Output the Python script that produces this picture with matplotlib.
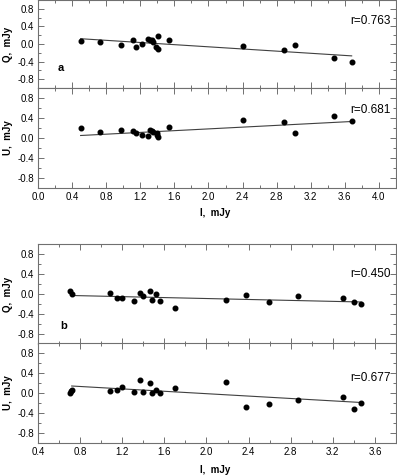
import matplotlib.pyplot as plt
import numpy as np
from matplotlib.ticker import MultipleLocator

plt.rcParams['font.family'] = ['Liberation Sans', 'DejaVu Sans']

# panel a: I, Q, U (mJy)
I_a = [0.50, 0.73, 0.97, 1.12, 1.15, 1.22, 1.29, 1.31, 1.34, 1.35, 1.39, 1.41, 1.41, 1.54,
       2.40, 2.89, 3.01, 3.47, 3.68]
Q_a = [0.07, 0.04, -0.02, 0.08, -0.07, 0.00, 0.12, 0.10, 0.09, 0.04, -0.07, -0.11, 0.18, 0.10,
       -0.05, -0.13, -0.03, -0.32, -0.41]
I_a2 = [0.50, 0.73, 0.97, 1.12, 1.15, 1.22, 1.29, 1.31, 1.34, 1.35, 1.40, 1.40, 1.41, 1.54,
        2.40, 2.89, 3.01, 3.47, 3.68]
U_a = [0.19, 0.11, 0.15, 0.13, 0.09, 0.06, 0.03, 0.16, 0.13, 0.11, 0.09, 0.05, 0.01, 0.22,
       0.35, 0.31, 0.09, 0.43, 0.34]

# panel b
I_b = [0.70, 0.72, 1.08, 1.15, 1.20, 1.31, 1.37, 1.40, 1.46, 1.48, 1.52, 1.56, 1.70,
       2.19, 2.38, 2.59, 2.87, 3.30, 3.40, 3.47]
Q_b = [0.06, 0.01, 0.03, -0.07, -0.07, -0.14, 0.03, -0.03, 0.07, -0.12, 0.00, -0.14, -0.28,
       -0.12, -0.02, -0.15, -0.03, -0.07, -0.16, -0.20]
I_b2 = [0.70, 0.71, 0.72, 1.08, 1.15, 1.20, 1.31, 1.37, 1.40, 1.46, 1.48, 1.52, 1.56, 1.70,
        2.19, 2.38, 2.59, 2.87, 3.30, 3.40, 3.47]
U_b = [0.00, 0.04, 0.06, 0.05, 0.06, 0.12, 0.03, 0.26, 0.02, 0.21, 0.01, 0.06, 0.00, 0.10,
       0.22, -0.27, -0.21, -0.13, -0.08, -0.32, -0.19]

# fitted lines (end points)
fitQa_x, fitQa_y = [0.50, 3.68], [0.12, -0.27]
fitUa_x, fitUa_y = [0.50, 3.68], [0.05, 0.33]
fitQb_x, fitQb_y = [0.72, 3.47], [-0.03, -0.16]
fitUb_x, fitUb_y = [0.72, 3.47], [0.14, -0.19]

r_text = ['r=0.763', 'r=0.681', 'r=0.450', 'r=0.677']

W, H = 397, 476
fig = plt.figure(figsize=(W / 100, H / 100), dpi=100)

def box(top, bottom):
    return [38 / W, 1 - bottom / H, 358 / W, (bottom - top) / H]

gray = '#707070'

def style(ax, xlim, show_x):
    ax.set_xlim(xlim)
    ax.set_ylim(-1, 1)
    ax.xaxis.set_major_locator(MultipleLocator(0.4))
    ax.xaxis.set_minor_locator(MultipleLocator(0.2))
    ax.set_yticks([-0.8, -0.4, 0.0, 0.4, 0.8])
    ax.yaxis.set_minor_locator(MultipleLocator(0.2))
    ax.tick_params(which='both', direction='in', top=True, right=True,
                   color=gray, labelsize=7, pad=3)
    ax.tick_params(which='major', length=4, width=0.7)
    ax.tick_params(which='minor', length=2, width=0.7)
    ax.yaxis.set_major_formatter(plt.FuncFormatter(lambda v, p: '%.1f' % v))
    ax.xaxis.set_major_formatter(plt.FuncFormatter(lambda v, p: '%.1f' % v))
    if not show_x:
        ax.tick_params(labelbottom=False)
    for s in ax.spines.values():
        s.set_color(gray)
        s.set_linewidth(0.8)

panels = [
    (box(0, 88), I_a, Q_a, fitQa_x, fitQa_y, (0, 4.2), False, 'Q,  mJy', r_text[0], 0.53),
    (box(88, 188), I_a2, U_a, fitUa_x, fitUa_y, (0, 4.2), True, 'U,  mJy', r_text[1], 0.56),
    (box(244, 344), I_b, Q_b, fitQb_x, fitQb_y, (0.4, 3.8), False, 'Q,  mJy', r_text[2], 0.40),
    (box(343, 443), I_b2, U_b, fitUb_x, fitUb_y, (0.4, 3.8), True, 'U,  mJy', r_text[3], 0.30),
]

axes = []
for rect, x, y, fx, fy, xlim, show_x, ylab, rt, ry in panels:
    ax = fig.add_axes(rect)
    ax.plot(fx, fy, color='#404040', lw=0.8)
    ax.plot(x, y, 'o', color='black', ms=3.3, mec='black')
    style(ax, xlim, show_x)
    ax.set_ylabel(ylab, fontsize=7, fontweight='bold', labelpad=3)
    ax.text(0.985, ry, rt, transform=ax.get_yaxis_transform(), ha='right', va='center', fontsize=8.5)
    axes.append(ax)

axes[0].text(0.23, -0.55, 'a', fontsize=8, fontweight='bold', va='center')
axes[2].text(0.615, -0.64, 'b', fontsize=8, fontweight='bold', va='center')

fig.text(200 / W, 1 - 213 / H, 'I,  mJy', fontsize=7, fontweight='bold', va='center')
fig.text(200 / W, 1 - 470 / H, 'I,  mJy', fontsize=7, fontweight='bold', va='center')

plt.savefig('out.png', dpi=100)
